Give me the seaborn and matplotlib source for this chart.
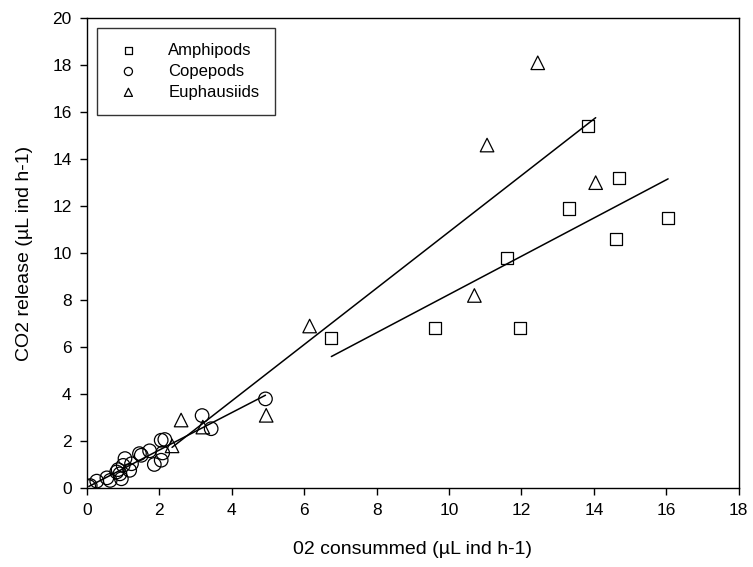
import numpy as np
import pandas as pd
import matplotlib
matplotlib.use("Agg")
import matplotlib.pyplot as plt
import seaborn as sns

# === values ===
amph_o2 = [6.75, 9.6, 11.95, 11.6, 13.3, 13.85, 14.6, 14.7, 16.05]
amph_co2 = [6.4, 6.8, 6.8, 9.8, 11.9, 15.4, 10.6, 13.2, 11.5]

cope_o2 = [0.05, 0.09, 0.27, 0.55, 0.64, 0.82, 0.86, 0.91, 0.95, 1.0, 1.05, 1.18,
           1.23, 1.45, 1.5, 1.73, 1.86, 2.05, 2.09, 2.05, 2.15, 3.18, 3.43, 4.93]
cope_co2 = [0.07, 0.11, 0.3, 0.44, 0.33, 0.69, 0.79, 0.61, 0.4, 0.97, 1.26, 0.76,
            1.04, 1.47, 1.4, 1.59, 1.01, 1.19, 1.5, 2.04, 2.07, 3.09, 2.53, 3.8]

euph_o2 = [2.35, 2.6, 3.2, 4.95, 6.15, 10.7, 11.05, 12.45, 14.05]
euph_co2 = [1.8, 2.9, 2.6, 3.1, 6.9, 8.2, 14.6, 18.1, 13.0]

groups = ["Amphipods", "Copepods", "Euphausiids"]
markers = {"Amphipods": "s", "Copepods": "o", "Euphausiids": "^"}
sizes = {"Amphipods": 75, "Copepods": 95, "Euphausiids": 95}

df = pd.concat([
    pd.DataFrame({"o2": amph_o2, "co2": amph_co2, "group": "Amphipods"}),
    pd.DataFrame({"o2": cope_o2, "co2": cope_co2, "group": "Copepods"}),
    pd.DataFrame({"o2": euph_o2, "co2": euph_co2, "group": "Euphausiids"}),
])

sns.set_style("ticks")
plt.rcParams["font.family"] = ["Liberation Sans", "DejaVu Sans"]
plt.rcParams["text.color"] = "black"
plt.rcParams["axes.labelcolor"] = "black"

fig, ax = plt.subplots(figsize=(7.53, 5.67), dpi=100)
fig.subplots_adjust(left=0.1155, right=0.981, bottom=0.139, top=0.968)

# scatter + linear fit per group
for g in groups:
    sub = df[df["group"] == g]
    sns.scatterplot(data=sub, x="o2", y="co2", marker=markers[g], s=sizes[g],
                    facecolors="none", edgecolor="black", linewidth=0.9,
                    label=g, ax=ax, zorder=3)
    sns.regplot(data=sub, x="o2", y="co2", scatter=False, ci=None,
                truncate=True, color="black", line_kws={"linewidth": 1.1},
                ax=ax)

ax.set_xlim(0, 18)
ax.set_ylim(0, 20)
ax.set_xticks(np.arange(0, 19, 2))
ax.set_yticks(np.arange(0, 21, 2))
ax.tick_params(direction="out", length=5, width=1, labelsize=12.5,
               colors="black", pad=6)
for s in ax.spines.values():
    s.set_visible(True)
    s.set_color("black")
    s.set_linewidth(1)

ax.set_xlabel("02 consummed (µL ind h-1)", fontsize=14, labelpad=16)
ax.set_ylabel("CO2 release (µL ind h-1)", fontsize=14, labelpad=14)

leg = ax.legend(loc="upper left", bbox_to_anchor=(0.015, 0.979), fontsize=12,
                frameon=True, fancybox=False, edgecolor="black",
                markerscale=0.6, handletextpad=1.4, borderpad=0.9,
                labelspacing=0.35, borderaxespad=0, handlelength=2.0)
leg.get_frame().set_linewidth(1)

plt.savefig("out.png", dpi=100)
